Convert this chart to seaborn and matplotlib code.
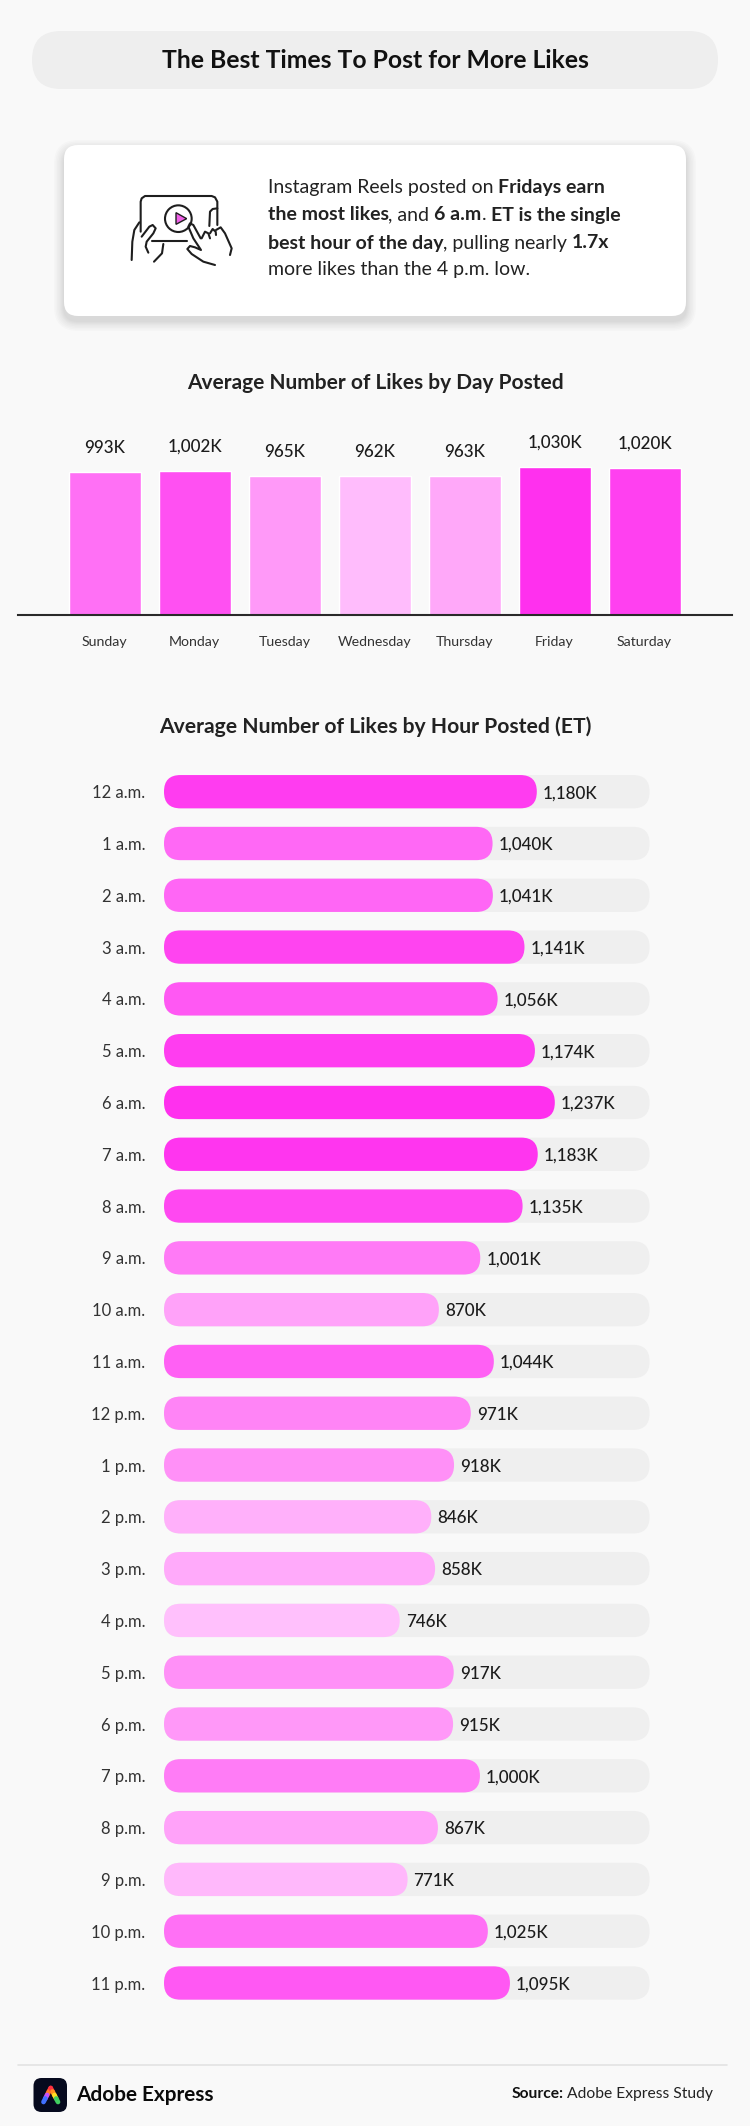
import matplotlib
matplotlib.use("Agg")
import matplotlib.pyplot as plt
import pandas as pd
import seaborn as sns
from matplotlib.patches import Circle, FancyBboxPatch, Polygon

# Dados
days = ["Sunday", "Monday", "Tuesday", "Wednesday", "Thursday", "Friday", "Saturday"]
day_likes = [993, 1002, 965, 962, 963, 1030, 1020]
day_colors = ["#ff70f5", "#ff50f2", "#ff99f8", "#ffbcfc", "#ffa8f9", "#ff30ee", "#ff40f0"]

hours = ["12 a.m.", "1 a.m.", "2 a.m.", "3 a.m.", "4 a.m.", "5 a.m.", "6 a.m.", "7 a.m.",
         "8 a.m.", "9 a.m.", "10 a.m.", "11 a.m.", "12 p.m.", "1 p.m.", "2 p.m.", "3 p.m.",
         "4 p.m.", "5 p.m.", "6 p.m.", "7 p.m.", "8 p.m.", "9 p.m.", "10 p.m.", "11 p.m."]
hour_likes = [1180, 1040, 1041, 1141, 1056, 1174, 1237, 1183, 1135, 1001, 870, 1044,
              971, 918, 846, 858, 746, 917, 915, 1000, 867, 771, 1025, 1095]
hour_colors = ["#ff3cf0", "#ff68f5", "#ff66f5", "#ff44f0", "#ff58f3", "#ff3df0", "#ff30ee", "#ff35ef",
               "#ff48f1", "#ff7af6", "#ffa2f9", "#ff60f4", "#ff84f6", "#ff90f7", "#ffb0fa", "#ffaafa",
               "#ffc0fc", "#ff90f7", "#ff98f8", "#ff7cf6", "#ffa2f9", "#ffb8fb", "#ff70f5", "#ff58f3"]
track_likes = 1537

title = "The Best Times To Post for More Likes"
day_title = "Average Number of Likes by Day Posted"
hour_title = "Average Number of Likes by Hour Posted (ET)"
callout = [
    [("Instagram Reels posted on ", False), ("Fridays earn", True)],
    [("the most likes", True), (", and ", False), ("6 a.m", True), (". ", False), ("ET is the single", True)],
    [("best hour of the day", True), (", pulling nearly ", False), ("1.7x", True)],
    [("more likes than the 4 p.m. low.", False)],
]

W, H = 750, 2126
BG = "#f9f9f9"
TRACK = "#efefef"
INK = "#1c1c1c"

sns.set_style("white")
plt.rcParams["font.family"] = ["Lato"]


def pt(px):
    return px * 0.72


def axes_px(fig, left, top, right, bottom):
    ax = fig.add_axes([left / W, 1 - bottom / H, (right - left) / W, (bottom - top) / H])
    ax.patch.set_alpha(0)
    return ax


fig = plt.figure(figsize=(W / 100, H / 100), dpi=100, facecolor=BG)

# Fundo em coordenadas de pixel
bg = fig.add_axes([0, 0, 1, 1])
bg.set_xlim(0, W)
bg.set_ylim(H, 0)
bg.axis("off")

bg.add_patch(FancyBboxPatch((32, 31), 686, 58, boxstyle="round,pad=0,rounding_size=29",
                            fc="#eeeeee", ec="none"))
bg.text(375, 60, title, ha="center", va="center", fontsize=pt(24.8), fontweight="bold", color="#111111")

# Cartao com sombra suave
for grow in [10, 8.5, 7, 5.5, 4, 3, 2, 1]:
    bg.add_patch(FancyBboxPatch((64 - grow, 150 - grow), 622 + 2 * grow, 171 + 2 * grow,
                                boxstyle=f"round,pad=0,rounding_size={14 + grow}",
                                fc="black", ec="none", alpha=0.014))
bg.add_patch(FancyBboxPatch((64, 145), 622, 171, boxstyle="round,pad=0,rounding_size=14",
                            fc="white", ec="none"))

# Texto do cartao, trecho a trecho
renderer = fig.canvas.get_renderer()


def run_width(txt, weight, size):
    a = bg.text(0, 0, "|" + txt + "|", fontsize=size, fontweight=weight)
    b = bg.text(0, 0, "||", fontsize=size, fontweight=weight)
    w = a.get_window_extent(renderer).width - b.get_window_extent(renderer).width
    a.remove()
    b.remove()
    return w


for line, y in zip(callout, [187, 215, 243, 270]):
    x = 267.5
    for txt, is_bold in line:
        weight = "bold" if is_bold else "normal"
        bg.text(x, y, txt, ha="left", va="center", fontsize=pt(19.5), fontweight=weight, color="#222222")
        x += run_width(txt, weight, pt(19.5))

# Icone
icon = [
    [(122, 185), (122, 95), (125, 85), (135, 78), (335, 78), (345, 82), (352, 95), (352, 165)],
    [(352, 115), (338, 117), (330, 125), (328, 168)],
    [(155, 212), (260, 212)],
    [(95, 270), (97, 215), (103, 180), (118, 157)],
    [(125, 200), (148, 170), (158, 165), (167, 175), (160, 190), (140, 215), (137, 230), (145, 248)],
    [(190, 222), (186, 250), (162, 275)],
    [(302, 205), (280, 165), (270, 160), (265, 170), (280, 205), (303, 240), (285, 232), (270, 228),
     (262, 237), (275, 252), (310, 275), (345, 285)],
    [(305, 205), (315, 185), (325, 190), (330, 205)],
    [(330, 190), (338, 177), (347, 185), (348, 195)],
    [(348, 180), (362, 172), (375, 190), (395, 235), (390, 255)],
]
for stroke in icon:
    bg.plot([100 + u / 3 for u, v in stroke], [170 + v / 3 for u, v in stroke],
            color="#1e1e1e", lw=1.5, solid_capstyle="round", solid_joinstyle="round")
bg.add_patch(Circle((100 + 235 / 3, 170 + 146 / 3), 40 / 3, fc="none", ec="#1e1e1e", lw=1.5))
bg.add_patch(Polygon([(100 + 228 / 3, 170 + 128 / 3), (100 + 228 / 3, 170 + 163 / 3), (100 + 260 / 3, 170 + 146 / 3)],
                     fc="#f060e8", ec="#1e1e1e", lw=1.0))

# Barras por dia
bg.text(375, 383, day_title, ha="center", va="center", fontsize=pt(20.9), fontweight="bold", color="#222222")
px_per_like = 148.2 / 1030
ax1 = axes_px(fig, 17.5, 420, 732, 614.7)
day_df = pd.DataFrame({"day": days, "likes": day_likes})
sns.barplot(data=day_df, x="day", y="likes", hue="day", palette=day_colors, legend=False,
            saturation=1, width=0.8, ax=ax1)
ax1.set_xlim(-87 / 90, 627.5 / 90)
ax1.set_ylim(0, 194.7 / px_per_like)
ax1.set(xlabel="", ylabel="")
ax1.set_yticks([])
sns.despine(ax=ax1, left=True)
ax1.spines["bottom"].set_linewidth(1.5)
ax1.spines["bottom"].set_color("#2a2a2a")
ax1.tick_params(axis="x", length=0, pad=15.5, labelsize=pt(14.1), labelcolor="#333333")
for i, v in enumerate(day_likes):
    ax1.annotate(f"{v:,}K", (i, v), xytext=(0, 24 * 0.72), textcoords="offset points",
                 ha="center", va="center", fontsize=pt(17), fontweight=500, color=INK)

# Barras por hora
bg.text(375, 727, hour_title, ha="center", va="center", fontsize=pt(21.1), fontweight="bold", color="#222222")
ax2 = axes_px(fig, 164, 765.8, 649.6, 2008.9)
hour_df = pd.DataFrame({"hour": hours, "likes": hour_likes, "track": track_likes})
sns.barplot(data=hour_df, x="track", y="hour", color=TRACK, saturation=1, width=0.643, ax=ax2)
sns.barplot(data=hour_df, x="likes", y="hour", hue="hour", palette=hour_colors, legend=False,
            saturation=1, width=0.643, ax=ax2)
ax2.set_xlim(0, track_likes)
ax2.set_ylim(23.5, -0.5)
ax2.set(xlabel="", ylabel="")
ax2.set_xticks([])
sns.despine(ax=ax2, left=True, bottom=True)
ax2.tick_params(axis="y", length=0, pad=13.5, labelsize=pt(16.6), labelcolor="#333333")

# Arredonda as barras
x_unit = track_likes / 485.6
y_unit = 1 / 51.8
for bar in list(ax2.patches):
    x0, y0, w, h = bar.get_x(), bar.get_y(), bar.get_width(), bar.get_height()
    ax2.add_patch(FancyBboxPatch((x0, y0), w, h, boxstyle=f"round,pad=0,rounding_size={16.5 * x_unit}",
                                 mutation_aspect=y_unit / x_unit, fc=bar.get_facecolor(), ec="none",
                                 zorder=bar.get_zorder()))
    bar.remove()
for i, v in enumerate(hour_likes):
    ax2.annotate(f"{v:,}K", (v, i), xytext=(6 * 0.72, 0), textcoords="offset points",
                 ha="left", va="center_baseline", fontsize=pt(17), fontweight=500, color=INK)

# Rodape
bg.plot([18, 727], [2065, 2065], color="#e3e3e3", lw=1.2)
bg.add_patch(FancyBboxPatch((33.5, 2078), 33.5, 34, boxstyle="round,pad=0,rounding_size=8",
                            fc="#060a1e", ec="none"))
left_leg = ["#ff3040", "#ff7a20", "#c050ff", "#4070ff"]
right_leg = ["#ff3040", "#ff9020", "#ffe020", "#40d060"]
for leg, end_x in [(left_leg, 43.5), (right_leg, 58)]:
    for k, c in enumerate(leg):
        t0, t1 = k / 4, (k + 1) / 4
        bg.plot([50.7 + (end_x - 50.7) * t0, 50.7 + (end_x - 50.7) * t1],
                [2088 + 14 * t0, 2088 + 14 * t1], color=c, lw=3.4, solid_capstyle="round")
bg.text(76, 2095, "Adobe Express", ha="left", va="center", fontsize=pt(20.8), fontweight="bold", color="#0a0a0a")
source_size = pt(15.6)
source_rest = "Adobe Express Study"
rest_w = run_width(source_rest, "normal", source_size)
bg.text(713, 2094, source_rest, ha="right", va="center", fontsize=source_size, color="#222222")
bg.text(713 - rest_w - 4, 2094, "Source:", ha="right", va="center", fontsize=source_size,
        fontweight="bold", color="#111111")

fig.savefig("out.png", dpi=100, facecolor=BG)
